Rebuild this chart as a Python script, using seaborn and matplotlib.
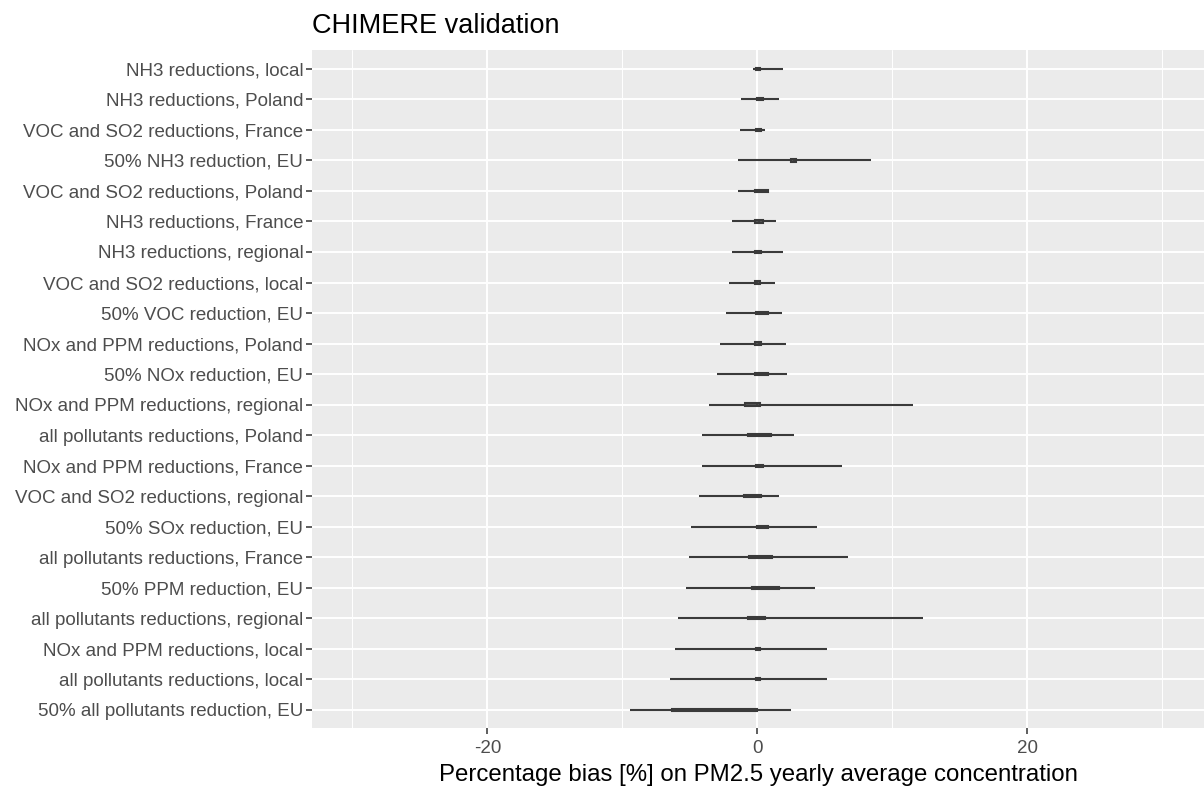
import numpy as np
import pandas as pd
import matplotlib
matplotlib.use("Agg")
import matplotlib.pyplot as plt
import seaborn as sns

categories = [
    "NH3 reductions, local",
    "NH3 reductions, Poland",
    "VOC and SO2 reductions, France",
    "50% NH3 reduction, EU",
    "VOC and SO2 reductions, Poland",
    "NH3 reductions, France",
    "NH3 reductions, regional",
    "VOC and SO2 reductions, local",
    "50% VOC reduction, EU",
    "NOx and PPM reductions, Poland",
    "50% NOx reduction, EU",
    "NOx and PPM reductions, regional",
    "all pollutants reductions, Poland",
    "NOx and PPM reductions, France",
    "VOC and SO2 reductions, regional",
    "50% SOx reduction, EU",
    "all pollutants reductions, France",
    "50% PPM reduction, EU",
    "all pollutants reductions, regional",
    "NOx and PPM reductions, local",
    "all pollutants reductions, local",
    "50% all pollutants reduction, EU",
]
# min, q1, median, q3, max (percentage bias)
bias_min = [-0.3, -1.2, -1.3, -1.4, -1.4, -1.9, -1.9, -2.1, -2.3, -2.8, -3.0,
            -3.6, -4.1, -4.1, -4.3, -4.9, -5.1, -5.3, -5.9, -6.1, -6.5, -9.4]
bias_q1 = [-0.1, 0.0, -0.1, 2.5, -0.2, -0.2, -0.2, -0.2, -0.1, -0.2, -0.2,
           -0.9, -0.7, -0.1, -1.0, 0.0, -0.6, -0.4, -0.7, -0.1, -0.1, -6.3]
bias_med = [0.1, 0.2, 0.1, 2.7, 0.3, 0.1, 0.1, 0.0, 0.4, 0.1, 0.3,
            0.0, 0.5, 0.1, 0.1, 0.4, 0.5, 0.5, 0.1, 0.0, 0.0, -0.3]
bias_q3 = [0.2, 0.4, 0.3, 2.9, 0.8, 0.4, 0.3, 0.2, 0.8, 0.3, 0.8,
           0.2, 1.0, 0.4, 0.3, 0.8, 1.1, 1.6, 0.6, 0.2, 0.2, 0.0]
bias_max = [1.9, 1.6, 0.6, 8.4, 0.8, 1.4, 1.9, 1.3, 1.8, 2.1, 2.2,
            11.5, 2.7, 6.3, 1.6, 4.4, 6.7, 4.3, 12.3, 5.2, 5.2, 2.5]

x_ticks = [-20, 0, 20]
x_minor = [-30, -10, 10, 30]

rows = []
for i, c in enumerate(categories):
    for v in (bias_min[i], bias_q1[i], bias_med[i], bias_q3[i], bias_max[i]):
        rows.append({"scenario": c, "bias": v})
df = pd.DataFrame(rows)

sns.set_theme(style="darkgrid")
plt.rcParams["font.family"] = ["Liberation Sans", "DejaVu Sans"]

fig = plt.figure(figsize=(12.04, 7.89), dpi=100)
ax = fig.add_axes([312 / 1204, 1 - 728 / 789, (1204 - 312) / 1204, (728 - 50) / 789])
ax.set_facecolor("#EBEBEB")

line_col = "#3a3a3a"
sns.boxplot(data=df, x="bias", y="scenario", order=categories, orient="h",
            whis=(0, 100), width=0.07, color="#555555", linewidth=1.5,
            linecolor=line_col, fliersize=0, showcaps=False,
            medianprops=dict(color=line_col, linewidth=1.2), ax=ax)

ax.set_xlim(-33.0, 33.1)
ax.set_ylim(len(categories) - 0.4, -0.62)
ax.set_xticks(x_ticks)
ax.set_xticklabels([str(t) for t in x_ticks])
ax.set_xticks(x_minor, minor=True)
ax.grid(True, which="major", color="white", linewidth=1.4)
ax.grid(True, which="minor", axis="x", color="white", linewidth=0.7)
ax.set_axisbelow(True)
for s in ax.spines.values():
    s.set_visible(False)
ax.tick_params(axis="both", which="major", length=4.3, width=1.1, color="#333333",
               labelsize=13.5, labelcolor="#4D4D4D", pad=2, left=True, bottom=True)
ax.tick_params(axis="x", which="major", pad=4.5)
ax.tick_params(axis="x", which="minor", length=0)
ax.set_ylabel("")
ax.set_xlabel("Percentage bias [%] on PM2.5 yearly average concentration",
              fontsize=17.3, color="black", labelpad=5)
ax.set_title("CHIMERE validation", loc="left", fontsize=19.5, color="black", pad=12)

fig.savefig("out.png", dpi=100)
